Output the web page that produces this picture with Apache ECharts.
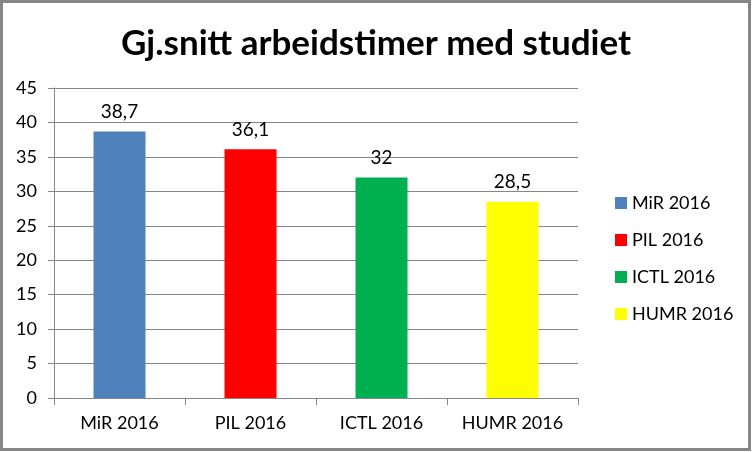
<!DOCTYPE html>
<html><head><meta charset="utf-8">
<script src="https://cdn.jsdelivr.net/npm/echarts@6/dist/echarts.min.js"></script>
<style>html,body{margin:0;padding:0;background:#fff}#c{width:752px;height:452px}</style>
</head><body><div id="c"></div>
<script>
const categories = ['MiR 2016', 'PIL 2016', 'ICTL 2016', 'HUMR 2016'];
const values = [38.7, 36.1, 32, 28.5];
const colors = ['#4F81BD', '#FF0000', '#00B050', '#FFFF00'];
const yTicks = [0, 5, 10, 15, 20, 25, 30, 35, 40, 45];
const title = 'Gj.snitt arbeidstimer med studiet';

const font = 'Lato, "Open Sans", sans-serif';
const chart = echarts.init(document.getElementById('c'));
const series = categories.map((name, i) => ({
  name: name,
  type: 'bar',
  stack: 'all',
  barWidth: 52,
  itemStyle: { color: colors[i] },
  label: {
    show: true, position: 'top', distance: 10,
    fontFamily: font, fontSize: 19, color: '#000',
    formatter: p => String(p.value).replace('.', ',')
  },
  data: categories.map((c, j) => j === i ? values[i] : null)
}));
chart.setOption({
  animation: false,
  title: {
    text: title, left: 'center', top: 21,
    textStyle: { fontFamily: font, fontSize: 35, fontWeight: 'bold', color: '#000' }
  },
  graphic: [{
    type: 'rect', shape: { x: 1.5, y: 1.5, width: 748, height: 448 },
    style: { fill: 'none', stroke: '#868686', lineWidth: 3 }, z: 100
  }],
  legend: {
    orient: 'vertical', left: 610, top: 189, itemGap: 19,
    itemWidth: 12, itemHeight: 12, icon: 'rect',
    textStyle: { fontFamily: font, fontSize: 18, color: '#000' },
    data: categories
  },
  grid: { left: 54, right: 174, top: 88, bottom: 54 },
  xAxis: {
    type: 'category', data: categories,
    axisLine: { lineStyle: { color: '#868686', width: 1 } },
    axisTick: { show: true, length: 7, lineStyle: { color: '#868686' } },
    axisLabel: { fontFamily: font, fontSize: 18, color: '#000', margin: 16, interval: 0 }
  },
  yAxis: {
    type: 'value', min: yTicks[0], max: yTicks[yTicks.length - 1], interval: 5,
    axisLine: { show: true, lineStyle: { color: '#868686' } },
    axisTick: { show: true, length: 6, lineStyle: { color: '#868686' } },
    splitLine: { lineStyle: { color: '#868686' } },
    axisLabel: { fontFamily: font, fontSize: 18, color: '#000', margin: 17 }
  },
  series: series
});
</script></body></html>
